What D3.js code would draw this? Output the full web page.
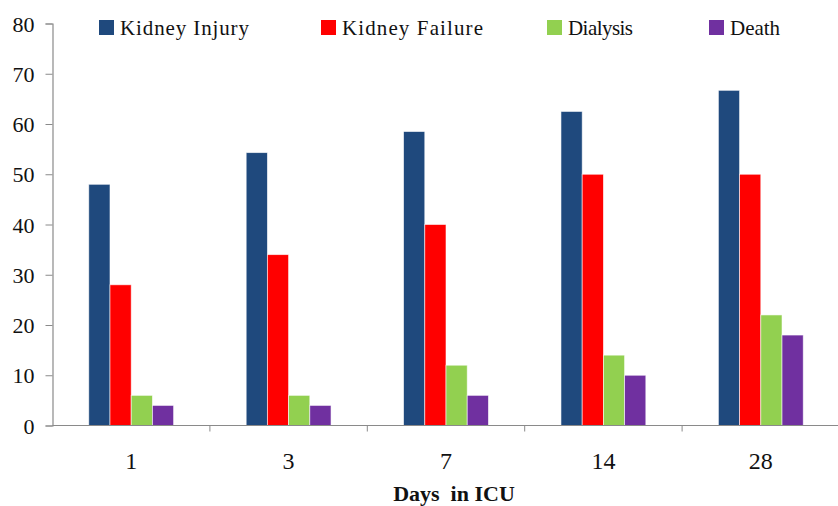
<!DOCTYPE html>
<html><head><meta charset="utf-8">
<script src="https://cdn.jsdelivr.net/npm/d3@7"></script>
<style>body{margin:0;background:#fff}svg{display:block}text{font-family:"Liberation Serif","Times New Roman",serif;fill:#111}</style>
</head><body><svg id="c" width="838" height="506"></svg>
<script>
const categories = ["1","3","7","14","28"];
const seriesNames = ["Kidney Injury","Kidney Failure","Dialysis","Death"];
const kidneyInjury = [48, 54.3, 58.5, 62.5, 66.7];
const kidneyFailure = [28, 34, 40, 50, 50];
const dialysis = [6, 6, 12, 14, 22];
const death = [4, 4, 6, 10, 18];
const yTicks = [0,10,20,30,40,50,60,70,80];
const colors = ["#1F497D","#FF0000","#92D050","#7030A0"];
const seriesValues = [kidneyInjury, kidneyFailure, dialysis, death];

(function(){
const svg = d3.select("#c");
const mLeft = 52.5, mRight = 839.5, mTop = 23.5, mBottom = 425.5;
const x = d3.scaleBand().domain(categories).range([mLeft, mRight]).paddingInner(0).paddingOuter(0);
const x1 = d3.scaleBand().domain(seriesNames).range([0, x.bandwidth()]).paddingOuter(1.71).paddingInner(0);
const y = d3.scaleLinear().domain([0,80]).range([mBottom, mTop]);

const g = svg.append("g");
categories.forEach((c,i)=>{
  seriesNames.forEach((s,j)=>{
    const v = seriesValues[j][i];
    g.append("rect")
      .attr("x", x(c)+x1(s))
      .attr("y", y(v))
      .attr("width", x1.bandwidth())
      .attr("height", y(0)-y(v))
      .attr("fill", colors[j])
      .attr("stroke","#fff").attr("stroke-width",0.8).attr("stroke-opacity",0.7);
  });
});

const ya = svg.append("g").attr("transform",`translate(${mLeft},0)`)
  .call(d3.axisLeft(y).tickValues(yTicks).tickSize(7).tickPadding(11));
ya.select(".domain").attr("stroke","#8a8a8a").attr("stroke-width",1.2);
ya.selectAll(".tick line").attr("stroke","#8a8a8a");
ya.selectAll("text").style("font-size","22px").attr("fill","#111").attr("dy","0.35em");

const xa = svg.append("g").attr("transform",`translate(0,${mBottom})`);
xa.append("line").attr("x1",mLeft).attr("x2",838).attr("y1",0).attr("y2",0).attr("stroke","#8a8a8a").attr("stroke-width",1.2);
categories.forEach((c,i)=>{
  if(i>0) xa.append("line").attr("x1",x(c)).attr("x2",x(c)).attr("y1",0).attr("y2",6).attr("stroke","#8a8a8a");
  xa.append("text").attr("x",x(c)+x.bandwidth()/2).attr("y",43).attr("text-anchor","middle").style("font-size","24px").text(c);
});
svg.append("text").attr("x",454).attr("y",501).attr("text-anchor","middle").style("font-size","22px").style("font-weight","bold").style("white-space","pre").text("Days  in ICU");

const legX = [99, 321, 547, 709];
const legW = [129, 141, 65, 50];
seriesNames.forEach((s,j)=>{
  svg.append("rect").attr("x",legX[j]).attr("y",20).attr("width",15).attr("height",15).attr("fill",colors[j]);
  svg.append("text").attr("x",legX[j]+21).attr("y",34.5).style("font-size","21px")
    .attr("textLength",legW[j]).attr("lengthAdjust","spacing").text(s);
});
})();
</script></body></html>
